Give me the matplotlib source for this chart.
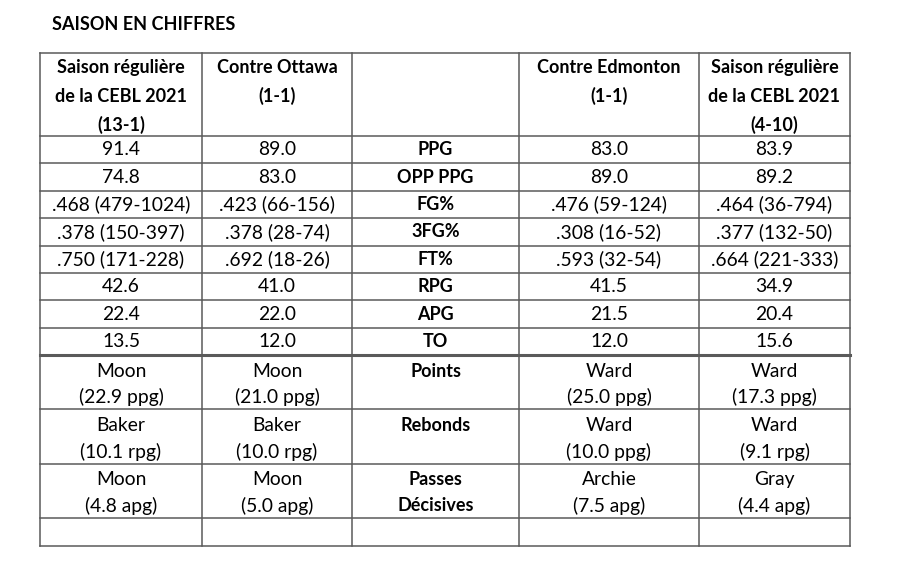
import matplotlib

matplotlib.use("Agg")
import matplotlib.pyplot as plt

plt.rcParams["font.family"] = ["Lato", "DejaVu Sans"]

title = "SAISON EN CHIFFRES"

headers = [
    "Saison régulière\nde la CEBL 2021\n(13-1)",
    "Contre Ottawa\n(1-1)",
    "",
    "Contre Edmonton\n(1-1)",
    "Saison régulière\nde la CEBL 2021\n(4-10)",
]

stat_labels = ["PPG", "OPP PPG", "FG%", "3FG%", "FT%", "RPG", "APG", "TO"]
season_team = ["91.4", "74.8", ".468 (479-1024)", ".378 (150-397)", ".750 (171-228)", "42.6", "22.4", "13.5"]
vs_ottawa = ["89.0", "83.0", ".423 (66-156)", ".378 (28-74)", ".692 (18-26)", "41.0", "22.0", "12.0"]
vs_edmonton = ["83.0", "89.0", ".476 (59-124)", ".308 (16-52)", ".593 (32-54)", "41.5", "21.5", "12.0"]
season_opp = ["83.9", "89.2", ".464 (36-794)", ".377 (132-50)", ".664 (221-333)", "34.9", "20.4", "15.6"]

leader_labels = ["Points", "Rebonds", "Passes\nDécisives"]
leaders_season_team = ["Moon\n(22.9 ppg)", "Baker\n(10.1 rpg)", "Moon\n(4.8 apg)"]
leaders_ottawa = ["Moon\n(21.0 ppg)", "Baker\n(10.0 rpg)", "Moon\n(5.0 apg)"]
leaders_edmonton = ["Ward\n(25.0 ppg)", "Ward\n(10.0 ppg)", "Archie\n(7.5 apg)"]
leaders_season_opp = ["Ward\n(17.3 ppg)", "Ward\n(9.1 rpg)", "Gray\n(4.4 apg)"]

# layout in pixels
col_edges = [40, 202, 352, 519, 699, 850]
header_top, header_bottom = 52.5, 136
stat_row_h = 27.4
leader_row_h = 54.3
empty_row_h = 28
fs_bold = 13
fs_reg = 13.9
line_col = "#5a5a5a"
line_gap = 26

fig = plt.figure(figsize=(9, 5.72), dpi=100)
ax = fig.add_axes([0, 0, 1, 1])
ax.set_xlim(0, 900)
ax.set_ylim(572, 0)
ax.axis("off")

ax.text(52, 25, title, fontsize=fs_bold, fontweight="bold", ha="left", va="center")

centers = [(a + b) / 2 for a, b in zip(col_edges[:-1], col_edges[1:])]

# header
for cx, h in zip(centers, headers):
    for k, line in enumerate(h.split("\n")):
        ax.text(cx, header_top + 15 + k * 28.5, line, fontsize=fs_bold, fontweight="bold",
                ha="center", va="center")

row_lines = [header_top, header_bottom]
y = header_bottom
stat_cols = [season_team, vs_ottawa, stat_labels, vs_edmonton, season_opp]
for i in range(len(stat_labels)):
    yc = y + stat_row_h / 2
    for j, col in enumerate(stat_cols):
        bold = j == 2
        ax.text(centers[j], yc, col[i], fontsize=fs_bold if bold else fs_reg,
                ha="center", va="center", fontweight="bold" if bold else "normal")
    y += stat_row_h
    row_lines.append(y)

double_y = y
leader_cols = [leaders_season_team, leaders_ottawa, leader_labels, leaders_edmonton, leaders_season_opp]
for i in range(len(leader_labels)):
    for j, col in enumerate(leader_cols):
        bold = j == 2
        for k, line in enumerate(col[i].split("\n")):
            ax.text(centers[j], y + 16 + k * line_gap, line,
                    fontsize=fs_bold if bold else fs_reg, ha="center", va="center",
                    fontweight="bold" if bold else "normal")
    y += leader_row_h
    row_lines.append(y)

y += empty_row_h
row_lines.append(y)

table_bottom = y
for ry in row_lines:
    lw = 2.2 if ry == double_y else 1.1
    ax.plot([col_edges[0], col_edges[-1]], [ry, ry], color=line_col, lw=lw,
            solid_capstyle="projecting")
for cx in col_edges:
    ax.plot([cx, cx], [header_top, table_bottom], color=line_col, lw=1.1,
            solid_capstyle="projecting")

fig.savefig("out.png", dpi=100, facecolor="white")
